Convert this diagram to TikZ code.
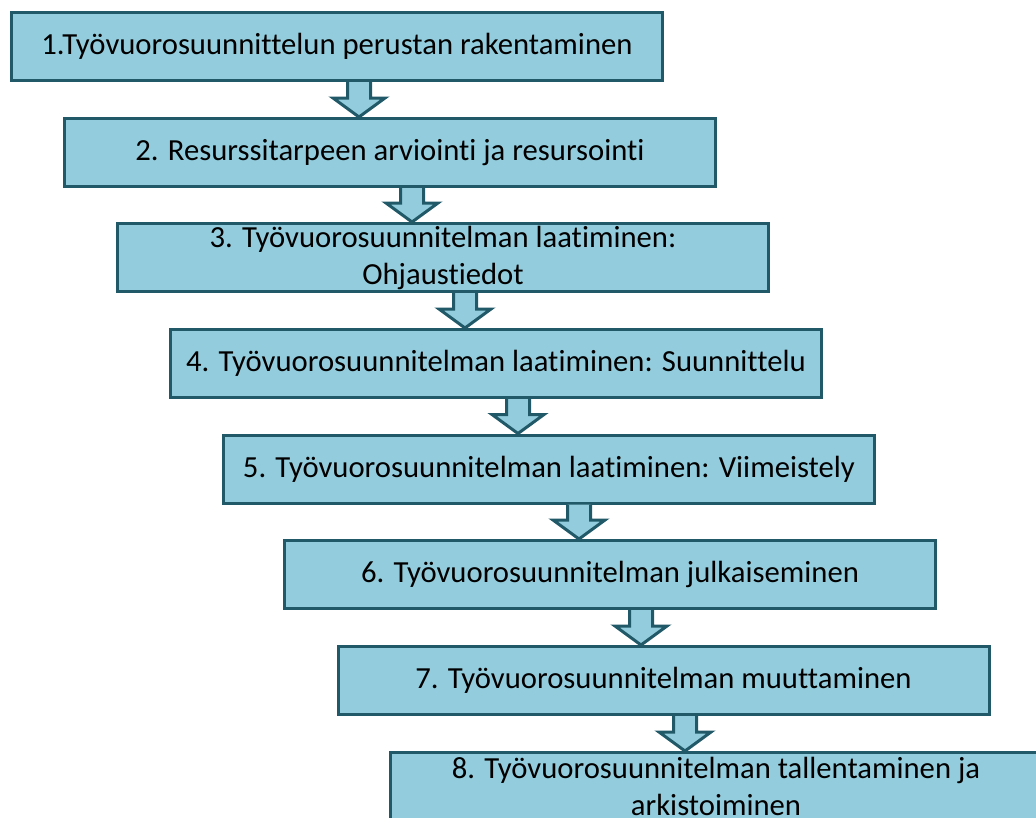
\documentclass[tikz,border=0pt]{standalone}
\usepackage{fontspec}
\setmainfont{Carlito}[Ligatures=NoCommon]
\usetikzlibrary{calc}
\definecolor{stepfill}{HTML}{93CDDD}
\definecolor{stepline}{HTML}{215968}

\begin{document}
\begin{tikzpicture}[x=0.75pt, y=-0.75pt]
  \tikzset{
    phase/.style={rectangle, draw=stepline, fill=stepfill, line width=2.25pt,
      minimum width=488.25pt, minimum height=51pt, inner sep=0pt, align=center,
      font=\fontsize{23}{27.75}\selectfont},
    flowarrow/.style={draw=stepline, fill=stepfill, line width=2.25pt, line join=miter}
  }
  \useasboundingbox[fill=white] (0,0) rectangle (1036,818);

  % phase boxes, stepped to the right
  \foreach \i/\x/\y/\txt in {
      1/337/46.5/{1.Työvuorosuunnittelun perustan rakentaminen},
      2/390/152.5/{2. Resurssitarpeen arviointi ja resursointi},
      3/443/257.5/{3. Työvuorosuunnitelman laatiminen:\\Ohjaustiedot},
      4/496/363.5/{4. Työvuorosuunnitelman laatiminen: Suunnittelu},
      5/549/469/{5. Työvuorosuunnitelman laatiminen: Viimeistely},
      6/610/574.5/{6. Työvuorosuunnitelman julkaiseminen},
      7/663.5/680.5/{7. Työvuorosuunnitelman muuttaminen},
      8/716/786.5/{8. Työvuorosuunnitelman tallentaminen ja\\arkistoiminen}} {
    \node[phase] (p\i) at (\x,\y) {\txt};
  }

  % block arrows between the phases
  \foreach \i/\j/\x in {1/2/359, 2/3/412, 3/4/465, 4/5/518, 5/6/579, 6/7/641, 7/8/685} {
    \coordinate (top) at (\x,0 |- p\i.south);
    \coordinate (tip) at (\x,0 |- p\j.north);
    \draw[flowarrow] ($(top)+(-11.5,0)$) -- ($(tip)+(-11.5,-19)$) -- ($(tip)+(-26,-19)$)
      -- (tip) -- ($(tip)+(26,-19)$) -- ($(tip)+(11.5,-19)$) -- ($(top)+(11.5,0)$);
  }
\end{tikzpicture}
\end{document}
